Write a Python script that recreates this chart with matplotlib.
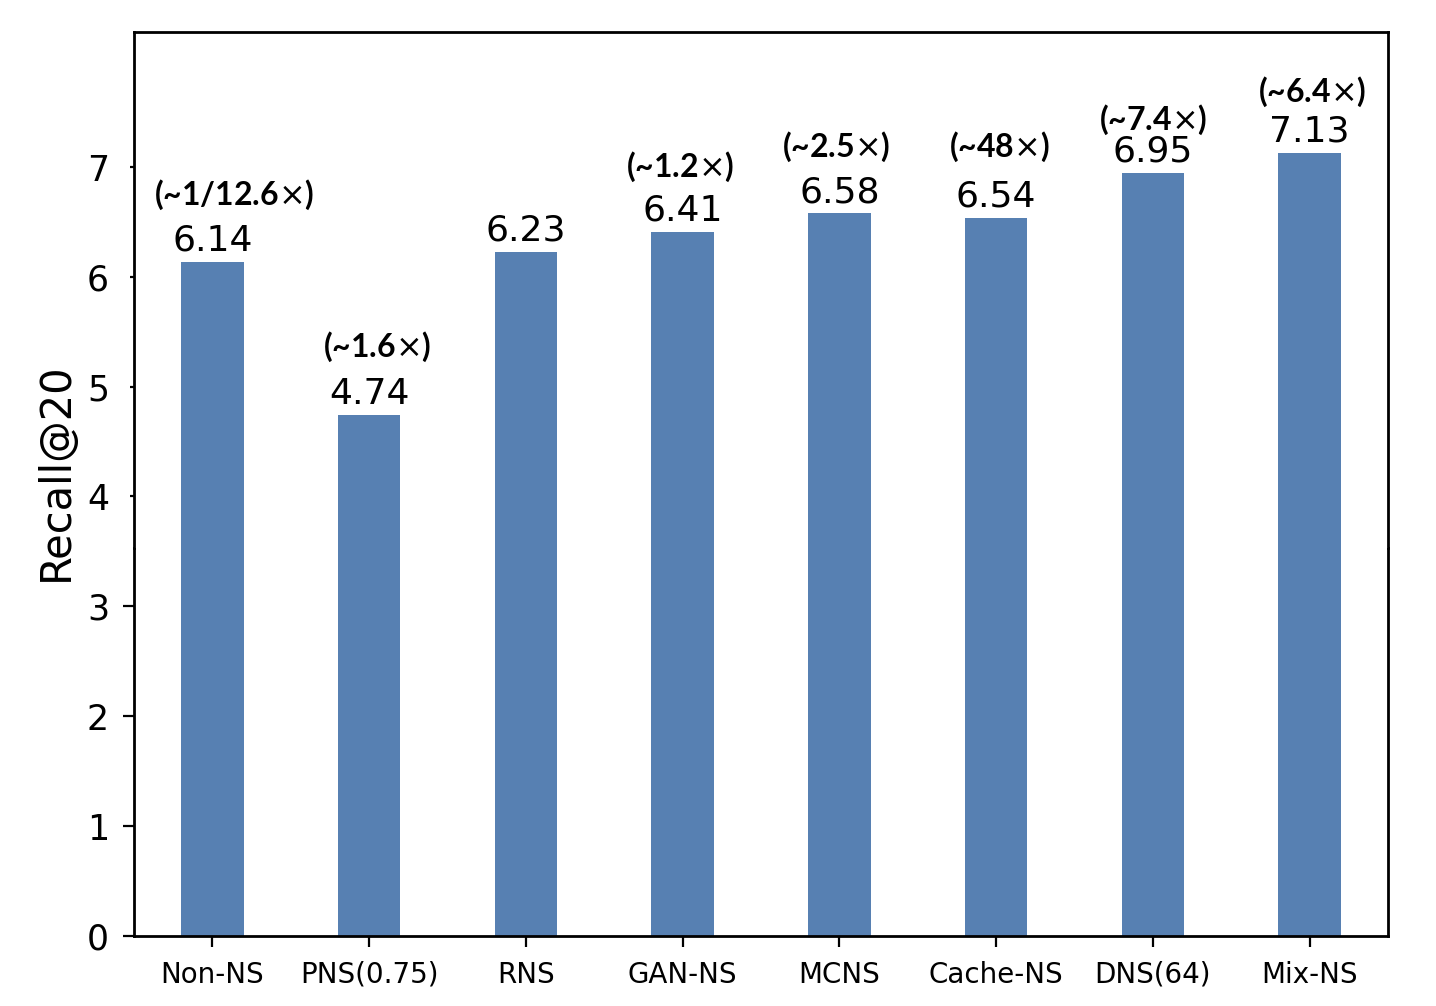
import matplotlib.pyplot as plt

methods = ['Non-NS', 'PNS(0.75)', 'RNS', 'GAN-NS', 'MCNS', 'Cache-NS', 'DNS(64)', 'Mix-NS']
recall = [6.14, 4.74, 6.23, 6.41, 6.58, 6.54, 6.95, 7.13]
speedup = ['(~1/12.6$\\times$)', '(~1.6$\\times$)', '', '(~1.2$\\times$)', '(~2.5$\\times$)',
           '(~48$\\times$)', '(~7.4$\\times$)', '(~6.4$\\times$)']
# label offsets in points (hand placed in the original)
ann_dx = [8, 3, 0, -1, -1, 1, 0, 1]
ann_dy = [24, 24.5, 24, 23.5, 24, 25.5, 19, 22]

color = '#5780b2'
split = 3.53
ytop = 8.23

fig = plt.figure(figsize=(7.18, 5.03), dpi=200)
ax_lo = fig.add_axes([0.0933, 0.0696, 0.8733, 0.4553 - 0.0696])
ax_hi = fig.add_axes([0.0933, 0.4553, 0.8733, 0.968 - 0.4553])

x = range(len(methods))
for ax in (ax_lo, ax_hi):
    ax.bar(x, recall, width=0.4, color=color)
    ax.set_xlim(-0.5, 7.5)
    for s in ax.spines.values():
        s.set_linewidth(1.0)

ax_lo.set_ylim(0, split)
ax_lo.set_yticks([0, 1, 2, 3])
ax_lo.spines['top'].set_visible(False)
ax_lo.set_xticks(list(x))
ax_lo.set_xticklabels(methods, fontsize=10)
ax_lo.tick_params(axis='y', labelsize=12.5, length=4, pad=5)
ax_lo.tick_params(axis='x', labelsize=10, length=4, pad=5)

ax_hi.set_ylim(split, ytop)
ax_hi.set_yticks([4, 5, 6, 7])
ax_hi.spines['bottom'].set_visible(False)
ax_hi.set_xticks([])
ax_hi.tick_params(axis='y', labelsize=12.5, length=1.5, pad=7.5)

for i, v in enumerate(recall):
    ax_hi.annotate(f'{v:.2f}', (i, v), xytext=(0, 1.5), textcoords='offset points',
                   ha='center', va='bottom', fontsize=13)
    if speedup[i]:
        ax_hi.annotate(speedup[i], (i, v), xytext=(ann_dx[i], ann_dy[i]),
                       textcoords='offset points', ha='center', va='center',
                       fontsize=11.5, fontweight='bold', family=['Lato', 'DejaVu Sans'])

fig.text(0.039, 0.531, 'Recall@20', rotation=90, ha='center', va='center', fontsize=15)

fig.savefig('out.png', dpi=200)
